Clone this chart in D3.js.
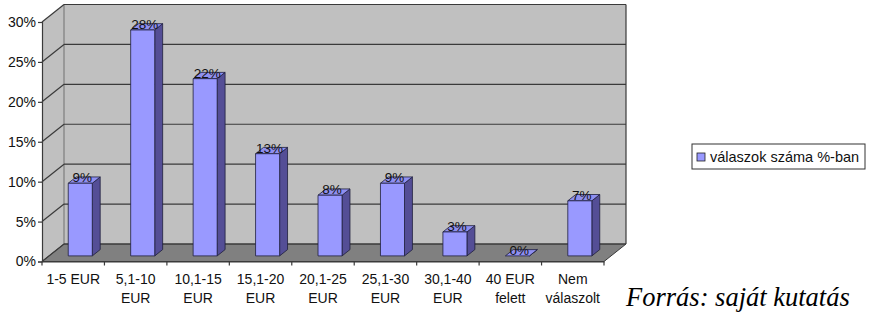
<!DOCTYPE html>
<html>
<head>
<meta charset="utf-8">
<script src="https://cdn.jsdelivr.net/npm/d3@7"></script>
<style>
  body { margin: 0; background: #fff; }
  svg { display: block; font-family: "Liberation Sans", Arial, sans-serif; }
</style>
</head>
<body>
<div id="chart"></div>
<script>
// survey answers, share of respondents in percent
const categories = [
  ['1-5 EUR'], ['5,1-10', 'EUR'], ['10,1-15', 'EUR'], ['15,1-20', 'EUR'],
  ['20,1-25', 'EUR'], ['25,1-30', 'EUR'], ['30,1-40', 'EUR'],
  ['40 EUR', 'felett'], ['Nem', 'válaszolt']
];
const values = [9.1, 28.3, 22.2, 12.8, 7.6, 9.1, 3.0, 0, 6.9];
const yTicks = [0, 5, 10, 15, 20, 25, 30];
const seriesName = 'válaszok száma %-ban';
const sourceText = 'Forrás: saját kutatás';

const width = 870;
const height = 315;

// front plane of the 3D box and the depth offset of the back wall
const plotLeft = 42, plotRight = 604, plotBottom = 261.5, plotTop = 22;
const depthX = 22, depthY = -17.5;
// bars sit between these fractions of the depth
const barFront = 0.32, barBack = 0.68;

const svg = d3.select('#chart')
  .append('svg')
  .attr('width', width)
  .attr('height', height);

const x = d3.scaleBand()
  .domain(categories.map((d, i) => i))
  .range([plotLeft, plotRight])
  .paddingInner(0.615)
  .paddingOuter(0.3075);

const y = d3.scaleLinear()
  .domain([0, 30])
  .range([plotBottom, plotTop]);

const gridColor = '#3a3a3a';

// left side wall
svg.append('polygon')
  .attr('points', [[plotLeft, y(30)], [plotLeft + depthX, y(30) + depthY],
    [plotLeft + depthX, y(0) + depthY], [plotLeft, y(0)]].join(' '))
  .attr('fill', '#c0c0c0');

// back wall
svg.append('rect')
  .attr('x', plotLeft + depthX)
  .attr('y', y(30) + depthY)
  .attr('width', plotRight - plotLeft)
  .attr('height', y(0) - y(30))
  .attr('fill', '#c0c0c0');

// floor
svg.append('polygon')
  .attr('points', [[plotLeft, y(0)], [plotRight, y(0)],
    [plotRight + depthX, y(0) + depthY], [plotLeft + depthX, y(0) + depthY]].join(' '))
  .attr('fill', '#808080')
  .attr('stroke', gridColor)
  .attr('stroke-width', 1);

// gridlines on the back wall and the side wall
const grid = svg.append('g')
  .attr('stroke', gridColor)
  .attr('stroke-width', 1.2)
  .attr('fill', 'none');

grid.selectAll('.hline')
  .data(yTicks)
  .join('line')
  .attr('class', 'hline')
  .attr('x1', plotLeft + depthX)
  .attr('x2', plotRight + depthX)
  .attr('y1', d => y(d) + depthY)
  .attr('y2', d => y(d) + depthY);

grid.selectAll('.dline')
  .data(yTicks)
  .join('line')
  .attr('class', 'dline')
  .attr('x1', plotLeft)
  .attr('x2', plotLeft + depthX)
  .attr('y1', d => y(d))
  .attr('y2', d => y(d) + depthY);

grid.append('line')
  .attr('x1', plotRight + depthX)
  .attr('x2', plotRight + depthX)
  .attr('y1', y(30) + depthY)
  .attr('y2', y(0) + depthY);

grid.append('line')
  .attr('x1', plotLeft + depthX)
  .attr('x2', plotLeft + depthX)
  .attr('y1', y(30) + depthY)
  .attr('y2', y(0) + depthY)
  .attr('stroke-width', 0.6);

// bars: front face, top and right side
const bars = svg.selectAll('.bar')
  .data(values)
  .join('g')
  .attr('class', 'bar')
  .attr('stroke', '#1e1e3c')
  .attr('stroke-width', 0.8)
  .attr('stroke-linejoin', 'round');

const fx = i => x(i) + depthX * barFront;
const fy = v => y(v) + depthY * barFront;
const bdx = depthX * (barBack - barFront);
const bdy = depthY * (barBack - barFront);

bars.append('polygon')
  .attr('fill', '#544e96')
  .attr('points', (d, i) => {
    const x1 = fx(i) + x.bandwidth();
    return [[x1, fy(d)], [x1 + bdx, fy(d) + bdy], [x1 + bdx, fy(0) + bdy], [x1, fy(0)]].join(' ');
  });

bars.append('polygon')
  .attr('fill', '#8f8ff0')
  .attr('points', (d, i) => {
    const x0 = fx(i), x1 = x0 + x.bandwidth();
    return [[x0, fy(d)], [x1, fy(d)], [x1 + bdx, fy(d) + bdy], [x0 + bdx, fy(d) + bdy]].join(' ');
  });

bars.append('rect')
  .attr('fill', '#9999ff')
  .attr('x', (d, i) => fx(i))
  .attr('y', d => fy(d))
  .attr('width', x.bandwidth())
  .attr('height', d => fy(0) - fy(d));

// value labels
svg.selectAll('.value')
  .data(values)
  .join('text')
  .attr('class', 'value')
  .attr('x', (d, i) => fx(i) + x.bandwidth() / 2 + 2)
  .attr('y', d => fy(d) - 1)
  .attr('text-anchor', 'middle')
  .attr('font-size', 13.5)
  .attr('fill', '#111')
  .text(d => d3.format('.0%')(d / 100));

// value axis
const yAxis = svg.append('g')
  .attr('transform', `translate(${plotLeft},0)`)
  .call(d3.axisLeft(y).tickValues(yTicks).tickSize(4).tickPadding(2).tickFormat(d => d + '%'));
yAxis.selectAll('line, path').attr('stroke', gridColor).attr('stroke-width', 1.2);
yAxis.selectAll('text').attr('font-size', 14).attr('fill', '#111')
  .attr('font-family', '"Liberation Sans", Arial, sans-serif');

// category axis with ticks between the categories
const xAxis = svg.append('g')
  .attr('transform', `translate(0,${plotBottom})`)
  .call(d3.axisBottom(x).tickSize(0).tickPadding(0).tickFormat(''));
xAxis.select('path').attr('stroke', gridColor).attr('stroke-width', 1.2);

xAxis.selectAll('.sep')
  .data(d3.range(categories.length + 1))
  .join('line')
  .attr('class', 'sep')
  .attr('x1', i => plotLeft + i * x.step())
  .attr('x2', i => plotLeft + i * x.step())
  .attr('y1', 0)
  .attr('y2', 4)
  .attr('stroke', gridColor)
  .attr('stroke-width', 1.2);

xAxis.selectAll('.tick')
  .append('text')
  .attr('class', 'cat')
  .attr('text-anchor', 'middle')
  .attr('font-size', 14)
  .attr('fill', '#111')
  .attr('font-family', '"Liberation Sans", Arial, sans-serif')
  .selectAll('tspan')
  .data(i => categories[i])
  .join('tspan')
  .attr('x', 0)
  .attr('y', (d, j) => 22.5 + j * 19)
  .text(d => d);

// legend
const legend = svg.append('g')
  .attr('transform', 'translate(692,144)');
legend.append('rect')
  .attr('width', 173)
  .attr('height', 25)
  .attr('fill', '#fff')
  .attr('stroke', '#333');
legend.append('rect')
  .attr('x', 5)
  .attr('y', 9)
  .attr('width', 8)
  .attr('height', 8)
  .attr('fill', '#9999ff')
  .attr('stroke', '#222')
  .attr('stroke-width', 0.8);
legend.append('text')
  .attr('x', 18)
  .attr('y', 18)
  .attr('font-size', 14.5)
  .attr('fill', '#111')
  .text(seriesName);

// source note
svg.append('text')
  .attr('x', 626)
  .attr('y', 306)
  .attr('font-family', '"Liberation Serif", "Times New Roman", serif')
  .attr('font-style', 'italic')
  .attr('font-size', 26.5)
  .attr('fill', '#000')
  .text(sourceText);
</script>
</body>
</html>
